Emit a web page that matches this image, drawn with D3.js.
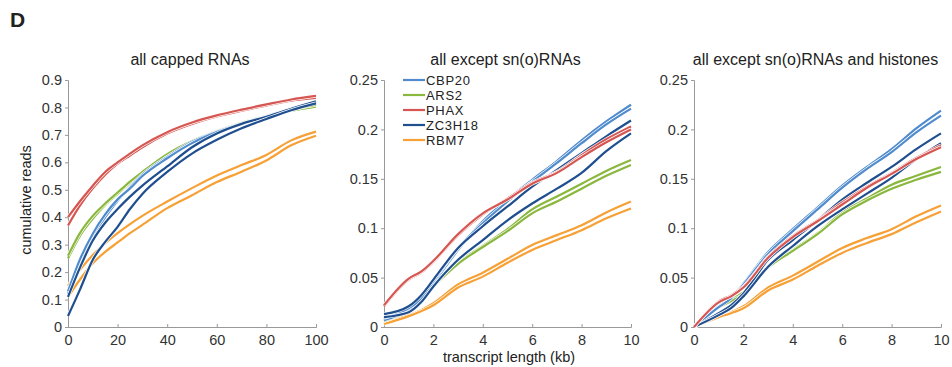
<!DOCTYPE html>
<html>
<head>
<meta charset="utf-8">
<script src="https://cdn.jsdelivr.net/npm/d3@7"></script>
<style>
  body { margin: 0; background: #fff; }
  text { font-family: "Liberation Sans", Arial, sans-serif; fill: #222; }
</style>
</head>
<body>
<script>
  const W = 952, H = 367;

  const proteins = ['CBP20', 'ARS2', 'PHAX', 'ZC3H18', 'RBM7'];
  const colors = ['#4f8bcd', '#8ab73e', '#d65652', '#1f4f8f', '#f6a035'];
  const drawOrder = [4, 1, 0, 3, 2];

  // panel 1: all capped RNAs, x in %
  const xCapped = [0, 5, 10, 15, 20, 25, 30, 40, 50, 60, 70, 80, 90, 100];
  const capped = {
    CBP20: [
      [0.12, 0.24, 0.33, 0.40, 0.46, 0.51, 0.555, 0.62, 0.675, 0.712, 0.742, 0.77, 0.797, 0.82],
      [0.13, 0.25, 0.34, 0.41, 0.465, 0.505, 0.55, 0.615, 0.67, 0.71, 0.74, 0.768, 0.795, 0.817]
    ],
    ARS2: [
      [0.25, 0.335, 0.395, 0.445, 0.485, 0.525, 0.56, 0.627, 0.675, 0.712, 0.742, 0.765, 0.788, 0.803],
      [0.26, 0.345, 0.405, 0.45, 0.49, 0.53, 0.565, 0.63, 0.678, 0.714, 0.744, 0.769, 0.792, 0.809]
    ],
    PHAX: [
      [0.37, 0.445, 0.505, 0.555, 0.595, 0.625, 0.655, 0.705, 0.74, 0.767, 0.788, 0.807, 0.825, 0.835],
      [0.40, 0.46, 0.515, 0.565, 0.60, 0.632, 0.662, 0.71, 0.745, 0.771, 0.792, 0.811, 0.829, 0.842]
    ],
    ZC3H18: [
      [0.11, 0.22, 0.315, 0.38, 0.43, 0.475, 0.515, 0.585, 0.655, 0.705, 0.74, 0.766, 0.795, 0.822],
      [0.04, 0.14, 0.245, 0.31, 0.365, 0.43, 0.485, 0.565, 0.632, 0.682, 0.724, 0.758, 0.79, 0.815]
    ],
    RBM7: [
      [0.15, 0.21, 0.262, 0.305, 0.342, 0.375, 0.405, 0.457, 0.506, 0.552, 0.59, 0.627, 0.68, 0.712],
      [0.11, 0.175, 0.232, 0.274, 0.308, 0.342, 0.372, 0.433, 0.48, 0.528, 0.566, 0.607, 0.662, 0.697]
    ]
  };

  // panels 2 and 3: x in kb
  const xLength = [0, 1, 1.5, 2, 3, 4, 5, 6, 7, 8, 9, 10];
  const noSno = {
    CBP20: [
      [0.007, 0.017, 0.026, 0.044, 0.078, 0.107, 0.129, 0.149, 0.168, 0.189, 0.208, 0.225],
      [0.009, 0.019, 0.028, 0.046, 0.080, 0.105, 0.127, 0.147, 0.166, 0.186, 0.205, 0.221]
    ],
    ARS2: [
      [0.006, 0.017, 0.026, 0.040, 0.065, 0.082, 0.099, 0.119, 0.132, 0.145, 0.158, 0.169],
      [0.008, 0.019, 0.028, 0.041, 0.064, 0.081, 0.097, 0.115, 0.127, 0.140, 0.153, 0.164]
    ],
    PHAX: [
      [0.021, 0.048, 0.055, 0.066, 0.093, 0.114, 0.130, 0.146, 0.157, 0.174, 0.190, 0.203],
      [0.022, 0.049, 0.056, 0.067, 0.094, 0.115, 0.129, 0.145, 0.156, 0.172, 0.187, 0.200]
    ],
    ZC3H18: [
      [0.013, 0.021, 0.032, 0.048, 0.080, 0.102, 0.122, 0.142, 0.159, 0.176, 0.193, 0.209],
      [0.010, 0.015, 0.025, 0.041, 0.068, 0.088, 0.108, 0.125, 0.140, 0.156, 0.178, 0.196]
    ],
    RBM7: [
      [0.004, 0.012, 0.017, 0.024, 0.043, 0.055, 0.069, 0.083, 0.093, 0.103, 0.116, 0.127],
      [0.003, 0.011, 0.016, 0.022, 0.040, 0.051, 0.065, 0.078, 0.088, 0.098, 0.110, 0.120]
    ]
  };
  const noSnoHist = {
    CBP20: [
      [0, 0.021, 0.030, 0.044, 0.076, 0.099, 0.121, 0.143, 0.162, 0.180, 0.201, 0.219],
      [0, 0.020, 0.029, 0.043, 0.074, 0.097, 0.119, 0.141, 0.160, 0.177, 0.197, 0.214]
    ],
    ARS2: [
      [0, 0.021, 0.028, 0.035, 0.061, 0.078, 0.095, 0.116, 0.130, 0.144, 0.153, 0.162],
      [0, 0.020, 0.026, 0.033, 0.060, 0.077, 0.094, 0.114, 0.128, 0.140, 0.149, 0.157]
    ],
    PHAX: [
      [0, 0.026, 0.032, 0.041, 0.071, 0.092, 0.108, 0.126, 0.142, 0.156, 0.171, 0.184],
      [0, 0.025, 0.031, 0.040, 0.070, 0.091, 0.107, 0.124, 0.141, 0.155, 0.170, 0.182]
    ],
    ZC3H18: [
      [0, 0.014, 0.022, 0.034, 0.068, 0.088, 0.108, 0.129, 0.146, 0.162, 0.180, 0.196],
      [0, 0.012, 0.019, 0.031, 0.061, 0.082, 0.102, 0.119, 0.135, 0.151, 0.170, 0.186]
    ],
    RBM7: [
      [0, 0.011, 0.015, 0.021, 0.040, 0.052, 0.066, 0.080, 0.090, 0.099, 0.112, 0.123],
      [0, 0.010, 0.014, 0.019, 0.037, 0.048, 0.062, 0.075, 0.085, 0.094, 0.106, 0.117]
    ]
  };

  const cappedTicks = [0, 0.1, 0.2, 0.3, 0.4, 0.5, 0.6, 0.7, 0.8, 0.9];
  const lengthTicks = [0, 0.05, 0.1, 0.15, 0.2, 0.25];
  const panels = [
    {title: 'all capped RNAs', x0: 68, x1: 316, xs: xCapped, xMax: 100, xTicks: [0, 20, 40, 60, 80, 100],
     yMax: 0.9, yTicks: cappedTicks, data: capped},
    {title: 'all except sn(o)RNAs', x0: 384, x1: 631, xs: xLength, xMax: 10, xTicks: [0, 2, 4, 6, 8, 10],
     yMax: 0.25, yTicks: lengthTicks, data: noSno},
    {title: 'all except sn(o)RNAs and histones', x0: 694, x1: 941, xs: xLength, xMax: 10, xTicks: [0, 2, 4, 6, 8, 10],
     yMax: 0.25, yTicks: lengthTicks, data: noSnoHist}
  ];
  const yTop = 80, yBot = 327;

  const svg = d3.select('body').append('svg')
    .attr('width', W).attr('height', H);

  svg.append('text')
    .attr('x', 10).attr('y', 27)
    .style('font-size', '21px').style('font-weight', 'bold')
    .text('D');

  panels.forEach(p => {
    const x = d3.scaleLinear().domain([0, p.xMax]).range([p.x0, p.x1]);
    const y = d3.scaleLinear().domain([0, p.yMax]).range([yBot, yTop]);
    const g = svg.append('g');

    g.append('text')
      .attr('x', (p.x0 + p.x1) / 2 - 2).attr('y', 65)
      .attr('text-anchor', 'middle')
      .style('font-size', '16px')
      .text(p.title);

    const yAxis = g.append('g')
      .attr('transform', `translate(${p.x0},0)`)
      .call(d3.axisLeft(y).tickValues(p.yTicks).tickSize(3).tickPadding(3).tickFormat(d3.format('')));
    const xAxis = g.append('g')
      .attr('transform', `translate(0,${yBot})`)
      .call(d3.axisBottom(x).tickValues(p.xTicks).tickSize(-3).tickPadding(8));
    [xAxis, yAxis].forEach(a => {
      a.select('.domain').attr('stroke', '#999');
      a.selectAll('.tick line').attr('stroke', '#999');
      a.selectAll('.tick text').style('font-size', '14.5px').style('fill', '#333')
        .style('font-family', '"Liberation Sans", Arial, sans-serif');
    });

    const line = d3.line()
      .x((d, i) => x(p.xs[i]))
      .y(d => y(d))
      .curve(d3.curveMonotoneX);

    drawOrder.forEach(k => {
      p.data[proteins[k]].forEach(rep => {
        g.append('path').attr('d', line(rep))
          .attr('fill', 'none').attr('stroke', '#fff').attr('stroke-width', 3.6);
        g.append('path').attr('d', line(rep))
          .attr('fill', 'none').attr('stroke', colors[k]).attr('stroke-width', 2.2);
      });
    });
  });

  svg.append('text')
    .attr('transform', 'translate(31,200) rotate(-90)')
    .attr('text-anchor', 'middle')
    .style('font-size', '14.5px')
    .text('cumulative reads');

  svg.append('text')
    .attr('x', 509).attr('y', 362)
    .attr('text-anchor', 'middle')
    .style('font-size', '14.5px')
    .text('transcript length (kb)');

  const legend = svg.append('g').attr('transform', 'translate(403,80)');
  proteins.forEach((name, i) => {
    const row = legend.append('g').attr('transform', `translate(0,${i * 15})`);
    row.append('line').attr('x1', 0).attr('x2', 22)
      .attr('stroke', colors[i]).attr('stroke-width', 2.2);
    row.append('text').attr('x', 23).attr('dy', '0.35em')
      .style('font-size', '13px').style('letter-spacing', '0.7px').text(name);
  });
</script>
</body>
</html>
